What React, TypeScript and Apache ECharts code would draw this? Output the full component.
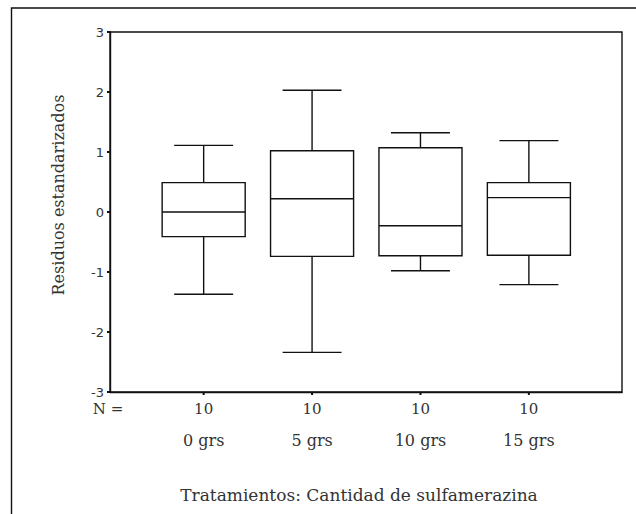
import React, { useEffect, useRef } from "react";
import * as echarts from "echarts";

const categories = ["0 grs", "5 grs", "10 grs", "15 grs"];
const counts = [10, 10, 10, 10];
const lowWhisker = [-1.37, -2.34, -0.98, -1.21];
const q1 = [-0.41, -0.74, -0.73, -0.72];
const median = [0.0, 0.22, -0.23, 0.24];
const q3 = [0.49, 1.02, 1.07, 0.49];
const highWhisker = [1.11, 2.03, 1.32, 1.19];
const yMin = -3;
const yMax = 3;
const nLabel = "N =";
const yTitle = "Residuos estandarizados";
const xTitle = "Tratamientos: Cantidad de sulfamerazina";

const SERIF = "'DejaVu Serif', serif";
const SANS = "'DejaVu Sans', sans-serif";
const TEXT = "#333";

export default function App() {
  const ref = useRef<HTMLDivElement>(null);
  useEffect(() => {
    if (!ref.current) return;
    const chart = echarts.init(ref.current, undefined, { renderer: "svg" });
    const data = categories.map((c, i) => [
      i,
      lowWhisker[i],
      q1[i],
      median[i],
      q3[i],
      highWhisker[i],
      counts[i],
    ]);
    const stroke = "#111";
    const lw = 1.4;
    const renderItem = (params: any, api: any) => {
      const i = api.value(0);
      const cx = api.coord([i, 0])[0];
      const yLow = api.coord([i, api.value(1)])[1];
      const yQ1 = api.coord([i, api.value(2)])[1];
      const yMed = api.coord([i, api.value(3)])[1];
      const yQ3 = api.coord([i, api.value(4)])[1];
      const yHigh = api.coord([i, api.value(5)])[1];
      const yAxisBottom = api.coord([i, yMin])[1];
      const boxW = api.size([0.766, 0])[0];
      const capW = boxW * 0.71;
      const ls = { stroke, lineWidth: lw, fill: "none" };
      return {
        type: "group",
        children: [
          { type: "line", shape: { x1: cx, y1: yHigh, x2: cx, y2: yQ3 }, style: ls },
          { type: "line", shape: { x1: cx, y1: yQ1, x2: cx, y2: yLow }, style: ls },
          { type: "line", shape: { x1: cx - capW / 2, y1: yHigh, x2: cx + capW / 2, y2: yHigh }, style: ls },
          { type: "line", shape: { x1: cx - capW / 2, y1: yLow, x2: cx + capW / 2, y2: yLow }, style: ls },
          {
            type: "rect",
            shape: { x: cx - boxW / 2, y: yQ3, width: boxW, height: yQ1 - yQ3 },
            style: { stroke, lineWidth: lw, fill: "#fff" },
          },
          { type: "line", shape: { x1: cx - boxW / 2, y1: yMed, x2: cx + boxW / 2, y2: yMed }, style: ls },
          { type: "line", shape: { x1: cx, y1: yAxisBottom, x2: cx, y2: yAxisBottom + 3 }, style: { stroke, lineWidth: 2 } },
          {
            type: "text",
            style: {
              text: String(api.value(6)),
              x: cx,
              y: yAxisBottom + 17,
              align: "center",
              verticalAlign: "middle",
              fontSize: 15,
              fontFamily: SERIF,
              fill: TEXT,
            },
          },
          {
            type: "text",
            style: {
              text: categories[i],
              x: cx,
              y: yAxisBottom + 48,
              align: "center",
              verticalAlign: "middle",
              fontSize: 16,
              fontFamily: SERIF,
              fill: TEXT,
            },
          },
        ],
      };
    };
    chart.setOption({
      animation: false,
      backgroundColor: "#fff",
      grid: {
        left: 110,
        right: 14,
        top: 32,
        bottom: 122,
        show: true,
        borderColor: "#111",
        borderWidth: 1.4,
        backgroundColor: "transparent",
      },
      xAxis: {
        type: "value",
        min: -0.864,
        max: 3.859,
        axisLine: { show: true, onZero: false, lineStyle: { color: "#111", width: 1.4 } },
        axisTick: { show: false },
        axisLabel: { show: false },
        splitLine: { show: false },
      },
      yAxis: {
        type: "value",
        min: yMin,
        max: yMax,
        interval: 1,
        axisLine: { show: true, onZero: false, lineStyle: { color: "#111", width: 1.4 } },
        axisTick: { show: true, inside: false, length: 3, lineStyle: { color: "#111", width: 2 } },
        axisLabel: { fontSize: 13, color: TEXT, fontFamily: SANS, margin: 6 },
        splitLine: { show: false },
      },
      series: [
        {
          type: "custom",
          clip: false,
          renderItem,
          encode: { x: 0, y: [1, 5] },
          data,
        },
      ],
      graphic: [
        {
          type: "polyline",
          shape: { points: [[11.5, 514], [11.5, 8], [636, 8]] },
          style: { stroke: "#111", lineWidth: 1.4, fill: "none" },
        },
        {
          type: "text",
          x: 108,
          y: 409,
          style: {
            text: nLabel,
            align: "center",
            verticalAlign: "middle",
            fontSize: 15,
            fontFamily: SERIF,
            fill: TEXT,
          },
        },
        {
          type: "text",
          x: 359,
          y: 495,
          style: {
            text: xTitle,
            align: "center",
            verticalAlign: "middle",
            fontSize: 17,
            fontFamily: SERIF,
            fill: TEXT,
          },
        },
        {
          type: "text",
          x: 58,
          y: 195,
          rotation: Math.PI / 2,
          style: {
            text: yTitle,
            align: "center",
            verticalAlign: "middle",
            fontSize: 16,
            fontFamily: SERIF,
            fill: TEXT,
          },
        },
      ],
    });
    return () => chart.dispose();
  }, []);
  return (
    <div
      ref={ref}
      style={{ position: "fixed", left: 0, top: 0, width: 636, height: 514 }}
    />
  );
}
